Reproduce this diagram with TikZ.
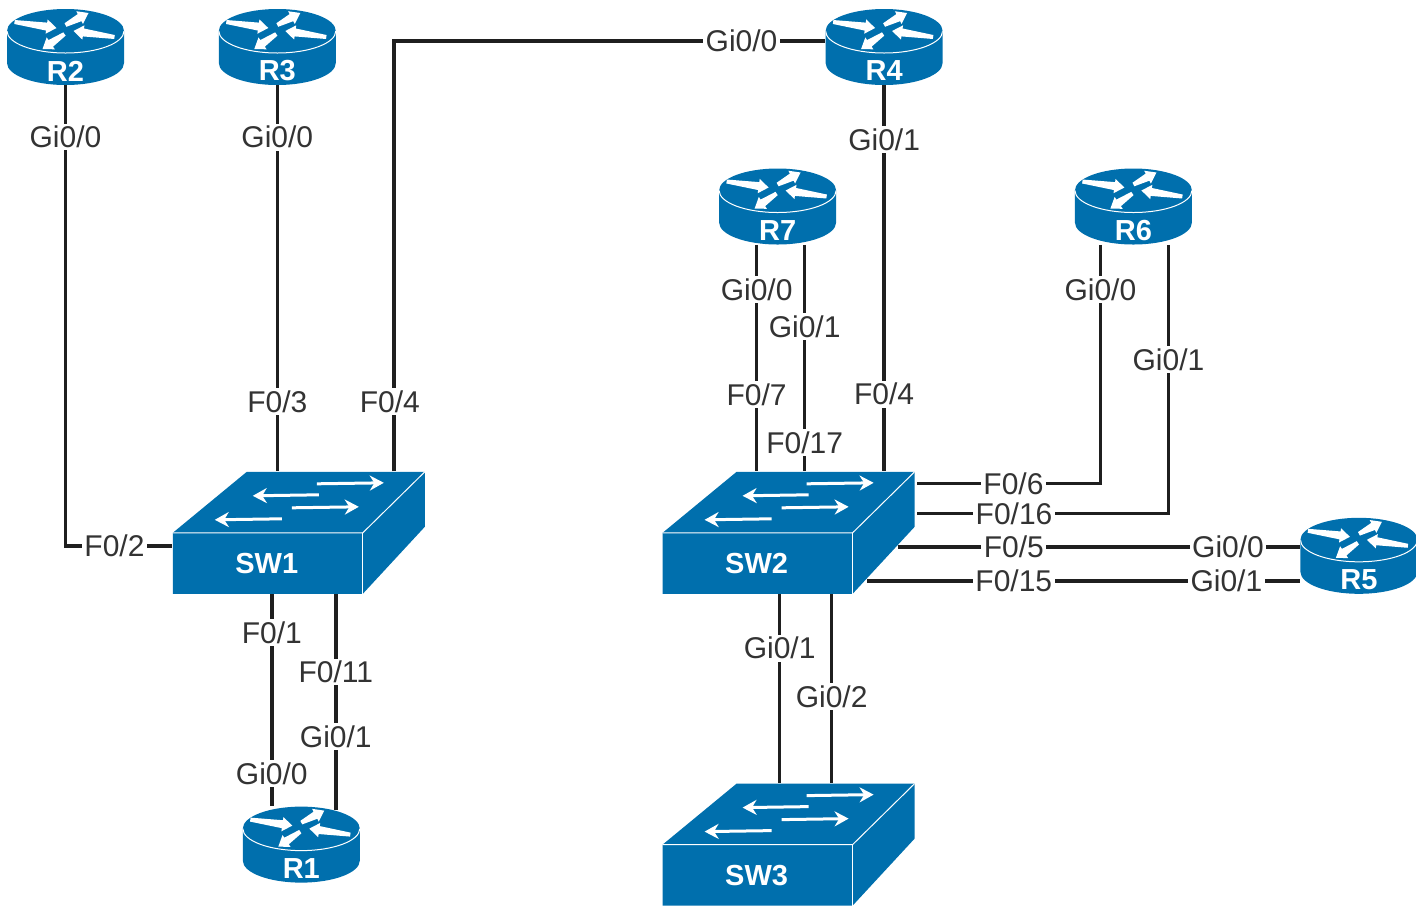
\documentclass[tikz,border=0pt]{standalone}
\usepackage{fontspec}
\setmainfont{Liberation Sans}
\usepackage{xcolor}
\usepackage{tikz}
\usetikzlibrary{
  arrows.meta,
  positioning,
  calc
}
\definecolor{ciscoblue}{HTML}{006FAD}
\definecolor{linkgray}{HTML}{1F1F1F}
\definecolor{portgray}{HTML}{333333}

% Router arrow: narrow at the tail, wide at the head
\newcommand{\taper}[2]{
  \coordinate (ta) at #1;
  \coordinate (tb) at #2;
  \coordinate (tc) at ($(tb)!5pt!(ta)$);
  \fill[white] ($(ta)!1pt!-90:(tb)$) -- ($(tc)!2pt!-90:(tb)$) -- ($(tc)!3.6pt!-90:(tb)$)
    -- (tb) -- ($(tc)!3.6pt!90:(tb)$) -- ($(tc)!2pt!90:(tb)$) -- ($(ta)!1pt!90:(tb)$) -- cycle;
}

% Icon bodies, in pixel units around the centre of the node
\newcommand{\routerglyph}{
  \begin{scope}[shift={(path picture bounding box.center)}, x=0.5pt, y=0.5pt]
    \fill[ciscoblue] (-58.5,16) -- (-58.5,-16)
      arc[start angle=180, end angle=360, x radius=58.5, y radius=22]
      -- (58.5,16)
      arc[start angle=0, end angle=180, x radius=58.5, y radius=22] -- cycle;
    \draw[white, line width=0.5pt] (-58.5,16)
      arc[start angle=180, end angle=360, x radius=58.5, y radius=22];
    \taper{(-51,25)}{(-9,19)}
    \taper{(0,22)}{(23,34)}
    \taper{(49,10)}{(8,16)}
    \taper{(-1,13)}{(-23,-2)}
  \end{scope}
}
\newcommand{\switchglyph}{
  \begin{scope}[shift={(path picture bounding box.center)}, x=0.5pt, y=0.5pt]
    \fill[ciscoblue] (-126,0) -- (-52,61) -- (126,61) -- (126,6)
      -- (64,-61) -- (-126,-61) -- cycle;
    \draw[white, line width=0.5pt] (-126,0) -- (64,0) -- (126,61);
    \draw[white, line width=0.5pt] (64,0) -- (64,-61);
    \draw[flow] (18,49) -- (85,50);
    \draw[flow] (20,38) -- (-46,37);
    \draw[flow] (-7,25) -- (60,26);
    \draw[flow] (-17,14) -- (-84,13);
  \end{scope}
}

\begin{document}
\begin{tikzpicture}[
  x=0.5pt, y=-0.5pt,
  flow/.style={white, line width=1.5pt, -{Stealth[length=7pt, width=7.5pt]}},
  tag/.style={font=\fontsize{14.5}{16}\selectfont\bfseries, text=white},
  routerbox/.style={
    rectangle, inner sep=0pt, minimum width=58.5pt, minimum height=38pt,
    path picture={\routerglyph},
    label={[tag, yshift=-12pt]center:#1},
  },
  switchbox/.style={
    rectangle, inner sep=0pt, minimum width=126pt, minimum height=61pt,
    path picture={\switchglyph},
    label={[tag, xshift=-16pt, yshift=-15.5pt]center:#1},
  },
  link/.style={line width=1.75pt, draw=linkgray},
  port/.style={
    fill=white, inner sep=1.2pt, text=portgray,
    font=\fontsize{15}{17}\selectfont,
  },
]
\useasboundingbox (0,0) rectangle (1416,906);

% Top row
\node[routerbox=R2] (r2) at (65.5,47) {};
\node[routerbox=R3, right=47pt of r2] (r3) {};
\node[routerbox=R4, right=244.5pt of r3] (r4) {};

% Switches
\node[switchbox=SW1, below right=193pt and 24pt of r2] (sw1) {};
\node[switchbox=SW2, right=118.5pt of sw1] (sw2) {};
\node[switchbox=SW3, below=94.5pt of sw2] (sw3) {};

% Routers around the switches
\node[routerbox=R1, below=106pt of sw1, xshift=1.25pt] (r1) {};
\node[routerbox=R7, above=113.25pt of sw2, xshift=-5.5pt] (r7) {};
\node[routerbox=R6, right=119pt of r7] (r6) {};
\node[routerbox=R5, right=192.5pt of sw2.south east, anchor=south west] (r5) {};

% SW1 links
\draw[link] (r2.south) |- node[port, pos=0.056] {Gi0/0} node[port, pos=0.729] {F0/2}
  ([yshift=-6.5pt]sw1.west);
\draw[link] (r3.south) -- node[port, pos=0.134] {Gi0/0} node[port, pos=0.819] {F0/3}
  (r3.south |- sw1.north);
\draw[link] ([xshift=47.5pt]sw1.north) |- node[port, pos=0.081, xshift=-2pt] {F0/4}
  node[port, pos=0.903] {Gi0/0} ([yshift=3pt]r4.west);
\draw[link] ([xshift=-13.5pt]sw1.south) -- node[port, pos=0.18] {F0/1} node[port, pos=0.847] {Gi0/0}
  ([xshift=-13.5pt]sw1.south |- r1.north);
\draw[link] ([xshift=18.5pt]sw1.south) -- node[port, pos=0.36] {F0/11} node[port, pos=0.66] {Gi0/1}
  ([xshift=18.5pt, yshift=-2pt]sw1.south |- r1.north);

% SW2 links
\draw[link] (r4.south) -- node[port, pos=0.14] {Gi0/1} node[port, pos=0.80] {F0/4}
  (r4.south |- sw2.north);
\draw[link] ([xshift=-10.5pt]r7.south) -- node[port, pos=0.197] {Gi0/0} node[port, pos=0.662] {F0/7}
  ([xshift=-10.5pt]r7.south |- sw2.north);
\draw[link] ([xshift=13.5pt]r7.south) -- node[port, pos=0.36] {Gi0/1} node[port, pos=0.873] {F0/17}
  ([xshift=13.5pt]r7.south |- sw2.north);
\draw[link] ([xshift=-16.5pt]r6.south) |- node[port, pos=0.094] {Gi0/0} node[port, pos=0.737] {F0/6}
  ([xshift=1pt, yshift=-6pt]sw2.north east);
\draw[link] ([xshift=17.5pt]r6.south) |- node[port, pos=0.213] {Gi0/1} node[port, pos=0.807] {F0/16}
  ([xshift=1pt, yshift=-21pt]sw2.north east);
\draw[link] ([xshift=-8.5pt, yshift=-7pt]sw2.east) -- node[port, pos=0.288] {F0/5} node[port, pos=0.821] {Gi0/0}
  ([yshift=-7pt]sw2.east -| r5.west);
\draw[link] ([xshift=-24pt, yshift=-24pt]sw2.east) -- node[port, pos=0.339] {F0/15} node[port, pos=0.83] {Gi0/1}
  ([yshift=-24pt]sw2.east -| r5.west);

% SW3 links
\draw[link] ([xshift=-4.5pt]sw2.south) -- node[port, pos=0.286] {Gi0/1} ([xshift=-4.5pt]sw3.north);
\draw[link] ([xshift=21.5pt]sw2.south) -- node[port, pos=0.54] {Gi0/2} ([xshift=21.5pt]sw3.north);

\end{tikzpicture}
\end{document}
